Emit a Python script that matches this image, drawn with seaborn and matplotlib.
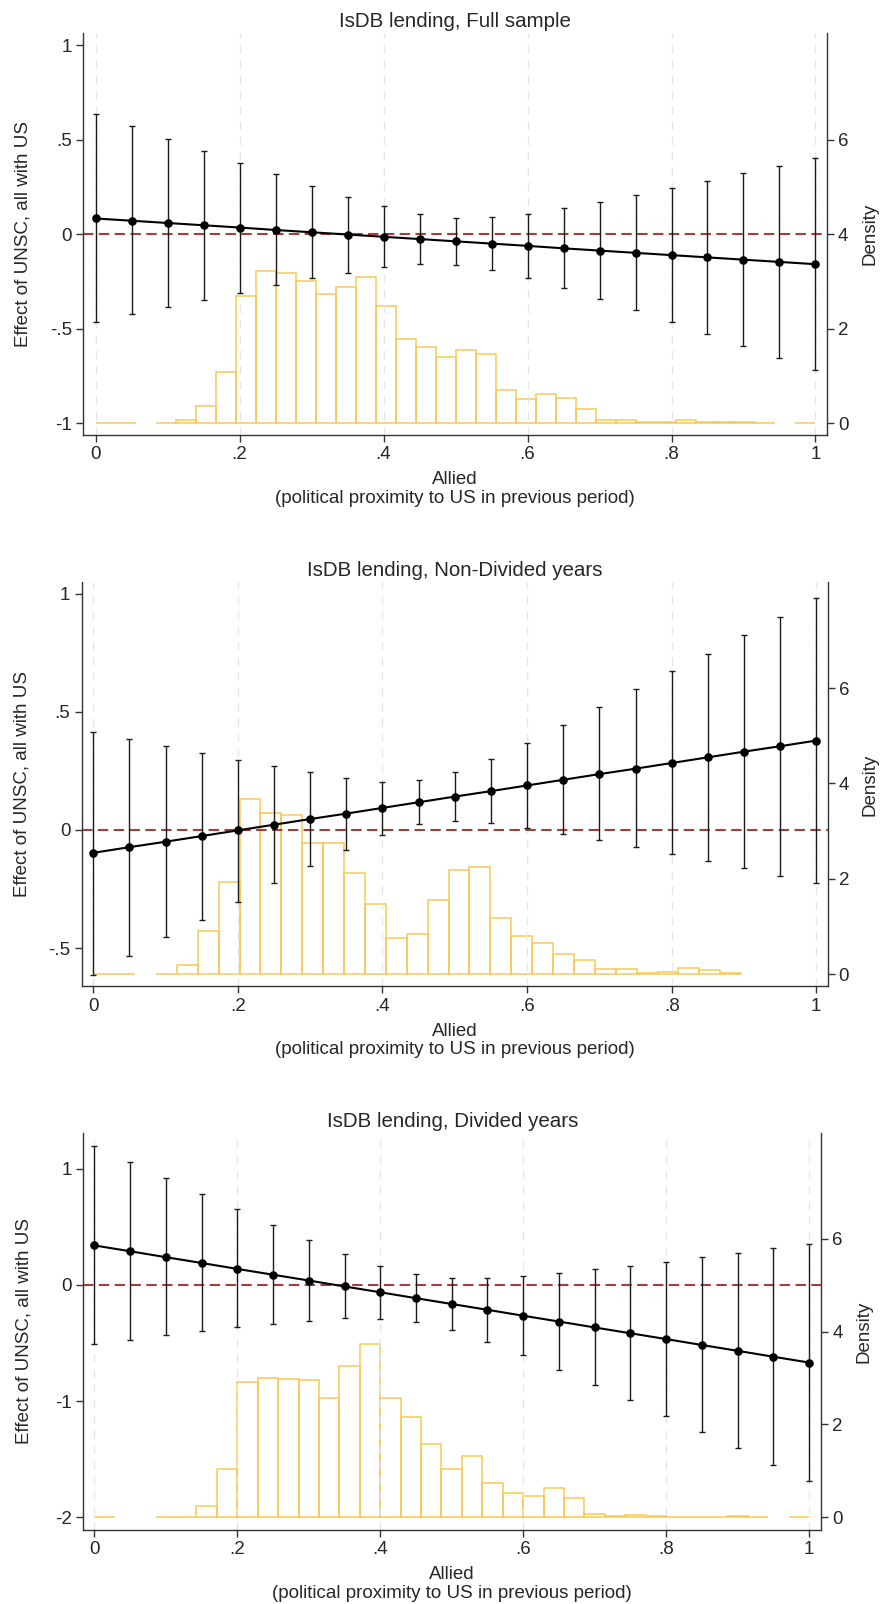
import numpy as np
import matplotlib
matplotlib.use("Agg")
import matplotlib.pyplot as plt
import seaborn as sns

sns.set_theme(style="white")
plt.rcParams["font.family"] = ["Liberation Sans", "DejaVu Sans"]

# ---------------- data ----------------
allied = [0.00, 0.05, 0.10, 0.15, 0.20, 0.25, 0.30, 0.35, 0.40, 0.45, 0.50,
          0.55, 0.60, 0.65, 0.70, 0.75, 0.80, 0.85, 0.90, 0.95, 1.00]

# Panel 1: Full sample
full_est = [0.083, 0.071, 0.059, 0.047, 0.035, 0.022, 0.010, -0.002, -0.014, -0.026, -0.038,
            -0.050, -0.062, -0.075, -0.087, -0.099, -0.111, -0.123, -0.135, -0.147, -0.159]
full_hi = [0.635, 0.570, 0.506, 0.441, 0.379, 0.316, 0.256, 0.198, 0.148, 0.109, 0.088,
           0.090, 0.109, 0.136, 0.171, 0.206, 0.245, 0.282, 0.325, 0.363, 0.404]
full_lo = [-0.466, -0.423, -0.384, -0.346, -0.309, -0.268, -0.233, -0.203, -0.175, -0.160, -0.162,
           -0.189, -0.231, -0.284, -0.344, -0.404, -0.466, -0.527, -0.591, -0.656, -0.720]
full_hist_range = [0.0, 1.0]
full_density = [0, 0, None, 0.014, 0.057, 0.36, 1.08, 2.70, 3.22, 3.18, 3.00, 2.74,
                2.89, 3.09, 2.47, 1.79, 1.62, 1.40, 1.55, 1.47, 0.71, 0.52, 0.62, 0.53,
                0.30, 0.06, 0.06, 0.03, 0.035, 0.06, 0.015, 0.015, 0.03, 0, None, 0]

# Panel 2: Non-Divided years
nondiv_est = [-0.097, -0.073, -0.050, -0.026, -0.002, 0.022, 0.046, 0.069, 0.093, 0.117, 0.141,
              0.164, 0.188, 0.212, 0.236, 0.259, 0.283, 0.307, 0.331, 0.354, 0.378]
nondiv_hi = [0.415, 0.386, 0.357, 0.326, 0.297, 0.269, 0.243, 0.220, 0.204, 0.209, 0.243,
             0.300, 0.369, 0.442, 0.518, 0.595, 0.671, 0.746, 0.824, 0.902, 0.980]
nondiv_lo = [-0.612, -0.532, -0.455, -0.380, -0.303, -0.226, -0.154, -0.083, -0.020, 0.023, 0.037,
             0.029, 0.006, -0.019, -0.044, -0.074, -0.103, -0.132, -0.162, -0.194, -0.223]
nondiv_hist_range = [0.0, 0.896]
nondiv_density = [0, 0, None, 0.01, 0.18, 0.90, 1.94, 3.67, 3.39, 3.33, 2.76, 2.76,
                  2.13, 1.47, 0.75, 0.83, 1.55, 2.19, 2.25, 1.17, 0.80, 0.66, 0.43,
                  0.285, 0.10, 0.10, 0.03, 0.05, 0.13, 0.08, 0.03]

# Panel 3: Divided years
div_est = [0.340, 0.290, 0.239, 0.189, 0.138, 0.088, 0.038, -0.013, -0.063, -0.114, -0.164,
           -0.214, -0.265, -0.315, -0.366, -0.416, -0.466, -0.517, -0.567, -0.618, -0.668]
div_hi = [1.199, 1.058, 0.923, 0.785, 0.651, 0.519, 0.390, 0.270, 0.167, 0.097, 0.062,
          0.062, 0.076, 0.103, 0.135, 0.164, 0.199, 0.240, 0.275, 0.317, 0.352]
div_lo = [-0.510, -0.472, -0.434, -0.399, -0.366, -0.334, -0.308, -0.287, -0.290, -0.319, -0.387,
          -0.487, -0.601, -0.730, -0.862, -0.994, -1.131, -1.269, -1.407, -1.547, -1.688]
div_hist_range = [0.0, 1.0]
div_density = [0, None, None, 0, 0, 0.25, 1.05, 2.91, 3.01, 2.97, 2.96, 2.58, 3.27,
               3.73, 2.58, 2.17, 1.58, 1.05, 1.31, 0.74, 0.53, 0.46, 0.64, 0.41, 0.06,
               0.02, 0.04, 0.03, 0.01, 0, 0.01, 0.03, 0, None, 0.01]

titles = ["IsDB lending, Full sample", "IsDB lending, Non-Divided years",
          "IsDB lending, Divided years"]
x_ticks = [0, 0.2, 0.4, 0.6, 0.8, 1.0]
x_ticklabels = ["0", ".2", ".4", ".6", ".8", "1"]
y_ticks = [[-1, -0.5, 0, 0.5, 1], [-0.5, 0, 0.5, 1], [-2, -1, 0, 1]]
y_ticklabels = [["-1", "-.5", "0", ".5", "1"], ["-.5", "0", ".5", "1"], ["-2", "-1", "0", "1"]]
dens_ticks = [0, 2, 4, 6]
dens_ticklabels = ["0", "2", "4", "6"]

panels = [
    dict(est=full_est, lo=full_lo, hi=full_hi, rng=full_hist_range, dens=full_density),
    dict(est=nondiv_est, lo=nondiv_lo, hi=nondiv_hi, rng=nondiv_hist_range, dens=nondiv_density),
    dict(est=div_est, lo=div_lo, hi=div_hi, rng=div_hist_range, dens=div_density),
]

# ---------------- layout ----------------
W, H = 881, 1604
fig = plt.figure(figsize=(W / 100, H / 100), dpi=100)
fig.patch.set_facecolor("white")

# pixel boxes: left, right, top, bottom
boxes = [(83, 827, 33.3, 435.0), (81.5, 827.5, 582.4, 986.4), (83.1, 821.3, 1133.0, 1529.8)]
xlims = [(-0.0175, 1.016), (-0.0163, 1.0155), (-0.0158, 1.0172)]
ylims = [(-1.063, 1.063), (-0.662, 1.047), (-2.108, 1.308)]
dlims = [(-0.25, 8.25), (-0.26, 8.22), (-0.27, 8.28)]

spine_col = "#333333"
hist_col = "#F8C955"
ref_col = "#A53D3D"
grid_col = "#E6E6E6"

for i, p in enumerate(panels):
    l, r, t, b = boxes[i]
    ax = fig.add_axes([l / W, 1 - b / H, (r - l) / W, (b - t) / H])
    ax2 = ax.twinx()
    ax.set_zorder(ax2.get_zorder() + 1)
    ax.patch.set_visible(False)

    # histogram (density, right axis)
    dens = np.array([np.nan if v is None else v for v in p["dens"]], dtype=float)
    edges = np.linspace(p["rng"][0], p["rng"][1], len(dens) + 1)
    width = edges[1] - edges[0]
    keep = ~np.isnan(dens)
    ax2.bar(edges[:-1][keep], dens[keep], width=width, align="edge", fill=False,
            edgecolor=hist_col, linewidth=1.1)
    ax2.set_ylim(*dlims[i])
    ax2.set_yticks(dens_ticks)
    ax2.set_yticklabels(dens_ticklabels)
    ax2.set_ylabel("Density", fontsize=13.5, rotation=90)
    ax2.yaxis.set_label_coords(1.046, 0.5)

    # reference line
    ax.axhline(0, color=ref_col, linestyle=(0, (5, 2.6)), linewidth=1.5, zorder=2)

    # confidence intervals
    est = np.array(p["est"]); lo = np.array(p["lo"]); hi = np.array(p["hi"])
    ax.errorbar(allied, est, yerr=[est - lo, hi - est], fmt="none", ecolor="#1a1a1a",
                elinewidth=1.0, capsize=2.5, capthick=1.0, zorder=3)
    # point estimates
    sns.lineplot(x=allied, y=p["est"], ax=ax, color="black", linewidth=1.5,
                 marker="o", markersize=6.2, markeredgewidth=0, zorder=4)

    ax.set_xlim(*xlims[i])
    ax.set_ylim(*ylims[i])
    ax.set_xticks(x_ticks)
    ax.set_xticklabels(x_ticklabels)
    ax.set_yticks(y_ticks[i])
    ax.set_yticklabels(y_ticklabels[i])
    ax.grid(axis="x", color=grid_col, linestyle=(0, (6, 5)), linewidth=1.0)
    ax.grid(axis="y", visible=False)
    ax2.grid(False)

    ax.set_title(titles[i], fontsize=14.8, pad=4.5)
    ax.set_xlabel("Allied\n(political proximity to US in previous period)",
                  fontsize=13.5, labelpad=6, linespacing=1.12)
    ax.set_ylabel("Effect of UNSC, all with US", fontsize=13.5)
    ax.yaxis.set_label_coords(-0.069, 0.5)

    for s in ["top", "right"]:
        ax.spines[s].set_visible(False)
    for s in ["top", "left", "bottom"]:
        ax2.spines[s].set_visible(False)
    for s in ["left", "bottom"]:
        ax.spines[s].set_color(spine_col)
        ax.spines[s].set_linewidth(1.0)
    ax2.spines["right"].set_color(spine_col)
    ax2.spines["right"].set_linewidth(1.0)

    ax.tick_params(axis="both", which="major", direction="out", length=5, width=1.0,
                   color=spine_col, labelsize=13.5, pad=3, left=True, bottom=True)
    ax2.tick_params(axis="y", direction="out", length=5, width=1.0, color=spine_col,
                    labelsize=13.5, pad=3, right=True)

fig.savefig("out.png", dpi=100, facecolor="white")
